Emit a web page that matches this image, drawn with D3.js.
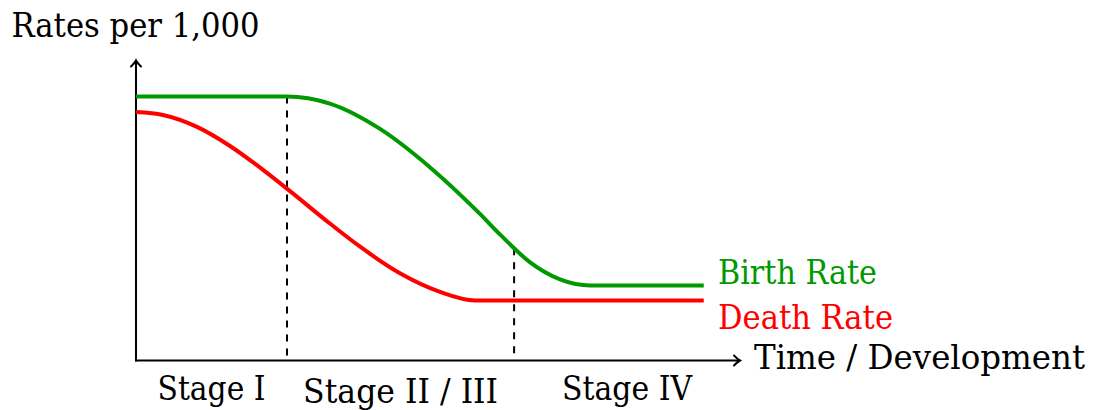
<!DOCTYPE html>
<html>
<head>
<meta charset="utf-8">
<script src="https://cdn.jsdelivr.net/npm/d3@7"></script>
<style>
  html, body { margin: 0; padding: 0; background: #fff; }
  svg { display: block; }
  text { font-family: "DejaVu Serif", serif; font-size: 33px; }
</style>
</head>
<body>
<svg id="chart" width="1095" height="410"></svg>
<script>
// ---- data (time in arbitrary units 0..100, rates per 1,000) ----
const birthTime  = [0, 25, 32.1, 40.4, 48.7, 56.95, 60.26, 65.2, 70.2, 75.2, 94];
const birthRate  = [44, 44, 42.82, 38.6, 32.18, 24.43, 21.02, 16.4, 13.52, 12.5, 12.5];
const deathTime  = [0, 4.47, 10.1, 15.56, 21.03, 25.5, 32.1, 37.1, 43.7, 50.33, 56.1, 94];
const deathRate  = [41.42, 40.92, 38.93, 35.75, 31.77, 28.23, 22.83, 18.96, 14.53, 11.43, 10, 10];
const stageBounds = [0, 25, 62.6, 100];
const stageLabels = ["Stage I", "Stage II / III", "Stage IV"];
const seriesNames = ["Birth Rate", "Death Rate"];
const yTitle = "Rates per 1,000";
const xTitle = "Time / Development";

const svg = d3.select("#chart");
const x = d3.scaleLinear().domain([0, 100]).range([136, 740]);
const y = d3.scaleLinear().domain([0, 50]).range([360.5, 60.5]);

const green = "#009900", red = "#ff0000";

const line = d3.line().x(d => x(d[0])).y(d => y(d[1])).curve(d3.curveMonotoneX);
const birthPts = birthTime.map((t, i) => [t, birthRate[i]]);
const deathPts = deathTime.map((t, i) => [t, deathRate[i]]);

// path for birth, used to find the top of the dashed boundaries
const birthPath = svg.append("path").datum(birthPts).attr("d", line)
  .attr("fill", "none").attr("stroke", "none");
function birthYAt(px) {
  const node = birthPath.node(), L = node.getTotalLength();
  let lo = 0, hi = L;
  for (let k = 0; k < 40; k++) {
    const mid = (lo + hi) / 2;
    if (node.getPointAtLength(mid).x < px) lo = mid; else hi = mid;
  }
  return node.getPointAtLength((lo + hi) / 2).y;
}

// dashed stage boundaries
stageBounds.slice(1, -1).forEach(b => {
  svg.append("line")
    .attr("x1", x(b)).attr("x2", x(b))
    .attr("y1", birthYAt(x(b))).attr("y2", y(0))
    .attr("stroke", "#000").attr("stroke-width", 2)
    .attr("stroke-dasharray", "7,7");
});

// axes
const axisW = 2;
svg.append("line").attr("x1", x(0)).attr("x2", x(0)).attr("y1", y(0) + axisW/2).attr("y2", y(50))
  .attr("stroke", "#000").attr("stroke-width", axisW);
svg.append("line").attr("x1", x(0) - axisW/2).attr("x2", x(100)).attr("y1", y(0)).attr("y2", y(0))
  .attr("stroke", "#000").attr("stroke-width", axisW);
// arrow heads
svg.append("path")
  .attr("d", `M${x(0)-5},${y(50)+6} Q${x(0)-1},${y(50)+2} ${x(0)},${y(50)} Q${x(0)+1},${y(50)+2} ${x(0)+5},${y(50)+6}`)
  .attr("fill", "none").attr("stroke", "#000").attr("stroke-width", axisW).attr("stroke-linecap", "round");
svg.append("path")
  .attr("d", `M${x(100)-6},${y(0)-5} Q${x(100)-2},${y(0)-1} ${x(100)},${y(0)} Q${x(100)-2},${y(0)+1} ${x(100)-6},${y(0)+5}`)
  .attr("fill", "none").attr("stroke", "#000").attr("stroke-width", axisW).attr("stroke-linecap", "round");

// curves
svg.append("path").datum(deathPts)
  .attr("d", line).attr("fill", "none").attr("stroke", red).attr("stroke-width", 4);
svg.append("path").datum(birthPts)
  .attr("d", line).attr("fill", "none").attr("stroke", green).attr("stroke-width", 4);

// texts
svg.append("text").attr("x", 11.5).attr("y", 36.5).attr("textLength", 248)
  .attr("lengthAdjust", "spacingAndGlyphs").attr("fill", "#000").text(yTitle);
svg.append("text").attr("x", 754).attr("y", 368.5).attr("textLength", 331)
  .attr("lengthAdjust", "spacingAndGlyphs").attr("fill", "#000").text(xTitle);

const labelY = [283.5, 328.5];
const labelW = [159, 175];
const labelC = [green, red];
seriesNames.forEach((n, i) => {
  svg.append("text").attr("x", 718).attr("y", labelY[i]).attr("textLength", labelW[i])
    .attr("lengthAdjust", "spacingAndGlyphs").attr("fill", labelC[i]).text(n);
});

const stageW = [108, 195, 130];
const stageBase = [400, 403, 400];
stageLabels.forEach((s, i) => {
  svg.append("text")
    .attr("x", (x(stageBounds[i]) + x(stageBounds[i+1])) / 2)
    .attr("y", stageBase[i]).attr("text-anchor", "middle")
    .attr("textLength", stageW[i]).attr("lengthAdjust", "spacingAndGlyphs")
    .attr("fill", "#000").text(s);
});
</script>
</body>
</html>
